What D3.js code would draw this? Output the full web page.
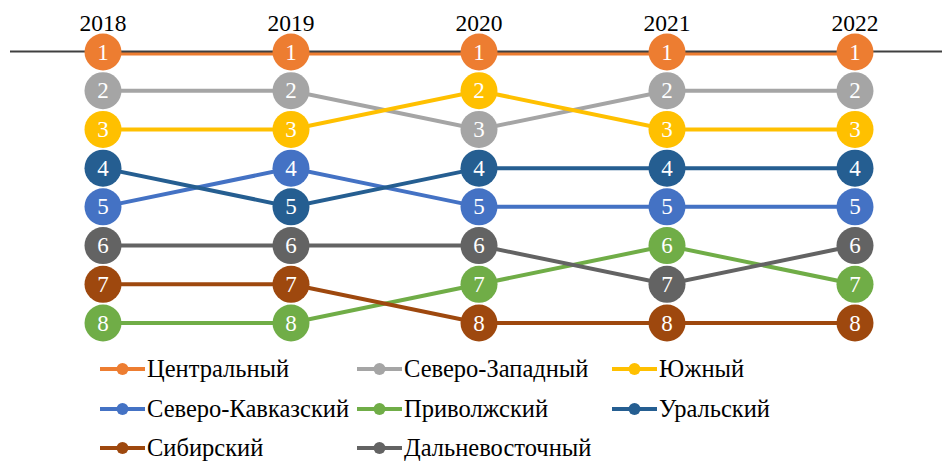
<!DOCTYPE html>
<html>
<head>
<meta charset="utf-8">
<script src="https://cdn.jsdelivr.net/npm/d3@7"></script>
<style>
  body { margin: 0; background: #fff; }
  svg { display: block; }
</style>
</head>
<body>
<svg id="chart" width="942" height="462"></svg>
<script>
const years = ['2018', '2019', '2020', '2021', '2022'];
const regions = ['Центральный', 'Северо-Западный', 'Южный', 'Северо-Кавказский', 'Приволжский', 'Уральский', 'Сибирский', 'Дальневосточный'];
const ranks = [
  [1, 1, 1, 1, 1],
  [2, 2, 3, 2, 2],
  [3, 3, 2, 3, 3],
  [5, 4, 5, 5, 5],
  [8, 8, 7, 6, 7],
  [4, 5, 4, 4, 4],
  [7, 7, 8, 8, 8],
  [6, 6, 6, 7, 6]
];
const colors = ['#ED7D31', '#A5A5A5', '#FFC000', '#4472C4', '#70AD47', '#255E91', '#9E480E', '#636363'];

const font = "'Liberation Serif'";

let svg = d3.select('#chart');

let x = d3.scalePoint()
  .domain(years)
  .range([103, 855]);

let y = d3.scaleLinear()
  .domain([1, 8])
  .range([52, 323]);

let line = d3.line()
  .x(d => x(d.year))
  .y(d => y(d.rank));

let series = regions.map((name, i) => ({
  name: name,
  color: colors[i],
  values: years.map((yr, j) => ({ year: yr, rank: ranks[i][j] }))
}));

// lines
svg.selectAll('.line')
  .data(series)
  .enter()
  .append('path')
  .attr('class', 'line')
  .attr('fill', 'none')
  .attr('stroke', d => d.color)
  .attr('stroke-width', 4)
  .attr('d', d => line(d.values))
  .attr('transform', d => d.name === 'Центральный' ? 'translate(0,1.5)' : null);

// top axis line
svg.append('line')
  .attr('x1', 10)
  .attr('x2', 942)
  .attr('y1', y(1) - 0.5)
  .attr('y2', y(1) - 0.5)
  .attr('stroke', '#404040')
  .attr('stroke-width', 2);

// year labels
svg.selectAll('.year')
  .data(years)
  .enter()
  .append('text')
  .attr('class', 'year')
  .attr('x', d => x(d))
  .attr('y', 31)
  .attr('text-anchor', 'middle')
  .attr('font-family', font)
  .attr('font-size', 23.5)
  .attr('fill', '#000')
  .text(d => d);

// markers
let pts = svg.selectAll('.pts')
  .data(series)
  .enter()
  .append('g')
  .attr('class', 'pts');

let pt = pts.selectAll('g')
  .data(d => d.values.map(v => ({ year: v.year, rank: v.rank, color: d.color })))
  .enter()
  .append('g');

pt.append('circle')
  .attr('cx', d => x(d.year))
  .attr('cy', d => y(d.rank))
  .attr('r', 18.5)
  .attr('fill', d => d.color);

pt.append('text')
  .attr('x', d => x(d.year))
  .attr('y', d => y(d.rank) + 7.5)
  .attr('text-anchor', 'middle')
  .attr('font-family', font)
  .attr('font-size', 23)
  .attr('fill', '#fff')
  .text(d => d.rank);

// legend
let legendCols = [100, 357, 612];
let legendRows = [369, 409, 448];

let legend = svg.selectAll('.legend')
  .data(series)
  .enter()
  .append('g')
  .attr('class', 'legend')
  .attr('transform', (d, i) => `translate(${legendCols[i % 3]},${legendRows[Math.floor(i / 3)]})`);

legend.append('line')
  .attr('x1', 0)
  .attr('x2', 45)
  .attr('stroke', d => d.color)
  .attr('stroke-width', 4);

legend.append('circle')
  .attr('cx', 22.5)
  .attr('r', 6)
  .attr('fill', d => d.color);

legend.append('text')
  .attr('x', 47)
  .attr('y', 8)
  .attr('font-family', font)
  .attr('font-size', 24.5)
  .attr('fill', '#000')
  .text(d => d.name);
</script>
</body>
</html>
